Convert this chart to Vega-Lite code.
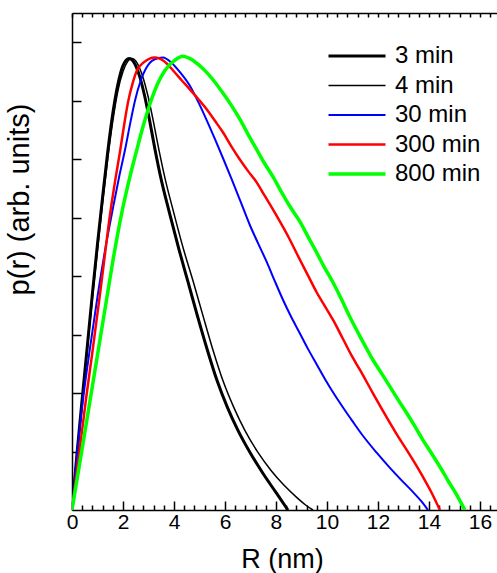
{
  "$schema": "https://vega.github.io/schema/vega-lite/v6.json",
  "width": 425,
  "height": 497,
  "autosize": {"type": "none"},
  "padding": {"left": 72, "top": 13, "right": 0, "bottom": 63},
  "config": {
    "view": {"stroke": null},
    "font": "Liberation Sans",
    "axis": {"grid": false, "domainColor": "black", "domainWidth": 1.5, "tickColor": "black", "tickWidth": 1.5, "labelColor": "black", "titleColor": "black", "titleFontWeight": "normal", "labelFont": "Liberation Sans", "titleFont": "Liberation Sans"}
  },
  "data": {"values": [
    {"series": "3 min", "R": 0, "p": 0}, {"series": "3 min", "R": 0.2, "p": 0.98}, {"series": "3 min", "R": 0.4, "p": 1.9}, {"series": "3 min", "R": 0.6, "p": 2.8}, {"series": "3 min", "R": 0.8, "p": 3.7}, {"series": "3 min", "R": 1.0, "p": 4.55}, {"series": "3 min", "R": 1.2, "p": 5.35}, {"series": "3 min", "R": 1.4, "p": 6.12}, {"series": "3 min", "R": 1.6, "p": 6.78}, {"series": "3 min", "R": 1.8, "p": 7.28}, {"series": "3 min", "R": 2.0, "p": 7.6}, {"series": "3 min", "R": 2.24, "p": 7.72}, {"series": "3 min", "R": 2.45, "p": 7.64}, {"series": "3 min", "R": 2.65, "p": 7.42}, {"series": "3 min", "R": 2.85, "p": 7.08}, {"series": "3 min", "R": 3.05, "p": 6.65}, {"series": "3 min", "R": 3.25, "p": 6.18}, {"series": "3 min", "R": 3.5, "p": 5.65}, {"series": "3 min", "R": 3.8, "p": 5.12}, {"series": "3 min", "R": 4.2, "p": 4.45}, {"series": "3 min", "R": 4.55, "p": 3.9}, {"series": "3 min", "R": 4.9, "p": 3.35}, {"series": "3 min", "R": 5.3, "p": 2.75}, {"series": "3 min", "R": 5.7, "p": 2.2}, {"series": "3 min", "R": 6.1, "p": 1.75}, {"series": "3 min", "R": 6.5, "p": 1.37}, {"series": "3 min", "R": 7.0, "p": 0.97}, {"series": "3 min", "R": 7.5, "p": 0.62}, {"series": "3 min", "R": 8.0, "p": 0.3}, {"series": "3 min", "R": 8.47, "p": 0},
    {"series": "4 min", "R": 0, "p": 0}, {"series": "4 min", "R": 0.2, "p": 0.93}, {"series": "4 min", "R": 0.4, "p": 1.85}, {"series": "4 min", "R": 0.6, "p": 2.75}, {"series": "4 min", "R": 0.8, "p": 3.62}, {"series": "4 min", "R": 1.0, "p": 4.45}, {"series": "4 min", "R": 1.2, "p": 5.25}, {"series": "4 min", "R": 1.4, "p": 6.0}, {"series": "4 min", "R": 1.6, "p": 6.65}, {"series": "4 min", "R": 1.8, "p": 7.17}, {"series": "4 min", "R": 2.0, "p": 7.5}, {"series": "4 min", "R": 2.35, "p": 7.72}, {"series": "4 min", "R": 2.56, "p": 7.64}, {"series": "4 min", "R": 2.77, "p": 7.42}, {"series": "4 min", "R": 2.98, "p": 7.08}, {"series": "4 min", "R": 3.19, "p": 6.65}, {"series": "4 min", "R": 3.4, "p": 6.18}, {"series": "4 min", "R": 3.66, "p": 5.65}, {"series": "4 min", "R": 3.97, "p": 5.12}, {"series": "4 min", "R": 4.38, "p": 4.45}, {"series": "4 min", "R": 4.76, "p": 3.9}, {"series": "4 min", "R": 5.12, "p": 3.35}, {"series": "4 min", "R": 5.52, "p": 2.75}, {"series": "4 min", "R": 5.93, "p": 2.2}, {"series": "4 min", "R": 6.35, "p": 1.75}, {"series": "4 min", "R": 6.77, "p": 1.37}, {"series": "4 min", "R": 7.3, "p": 0.98}, {"series": "4 min", "R": 7.8, "p": 0.68}, {"series": "4 min", "R": 8.3, "p": 0.43}, {"series": "4 min", "R": 8.8, "p": 0.22}, {"series": "4 min", "R": 9.15, "p": 0.09}, {"series": "4 min", "R": 9.45, "p": 0},
    {"series": "30 min", "R": 0, "p": 0}, {"series": "30 min", "R": 0.2, "p": 0.95}, {"series": "30 min", "R": 0.45, "p": 1.95}, {"series": "30 min", "R": 0.7, "p": 2.75}, {"series": "30 min", "R": 1.0, "p": 3.65}, {"series": "30 min", "R": 1.3, "p": 4.45}, {"series": "30 min", "R": 1.6, "p": 5.15}, {"series": "30 min", "R": 1.85, "p": 5.7}, {"series": "30 min", "R": 2.08, "p": 6.16}, {"series": "30 min", "R": 2.3, "p": 6.65}, {"series": "30 min", "R": 2.47, "p": 7.0}, {"series": "30 min", "R": 2.7, "p": 7.35}, {"series": "30 min", "R": 2.9, "p": 7.55}, {"series": "30 min", "R": 3.2, "p": 7.7}, {"series": "30 min", "R": 3.57, "p": 7.74}, {"series": "30 min", "R": 3.9, "p": 7.65}, {"series": "30 min", "R": 4.25, "p": 7.48}, {"series": "30 min", "R": 4.63, "p": 7.25}, {"series": "30 min", "R": 4.95, "p": 6.98}, {"series": "30 min", "R": 5.29, "p": 6.66}, {"series": "30 min", "R": 5.6, "p": 6.35}, {"series": "30 min", "R": 5.92, "p": 6.02}, {"series": "30 min", "R": 6.25, "p": 5.67}, {"series": "30 min", "R": 6.59, "p": 5.3}, {"series": "30 min", "R": 6.98, "p": 4.87}, {"series": "30 min", "R": 7.3, "p": 4.56}, {"series": "30 min", "R": 7.65, "p": 4.23}, {"series": "30 min", "R": 7.95, "p": 3.92}, {"series": "30 min", "R": 8.27, "p": 3.6}, {"series": "30 min", "R": 8.6, "p": 3.3}, {"series": "30 min", "R": 8.94, "p": 3.02}, {"series": "30 min", "R": 9.25, "p": 2.76}, {"series": "30 min", "R": 9.6, "p": 2.49}, {"series": "30 min", "R": 9.95, "p": 2.22}, {"series": "30 min", "R": 10.3, "p": 1.97}, {"series": "30 min", "R": 10.65, "p": 1.74}, {"series": "30 min", "R": 11.0, "p": 1.52}, {"series": "30 min", "R": 11.41, "p": 1.27}, {"series": "30 min", "R": 11.95, "p": 0.98}, {"series": "30 min", "R": 12.47, "p": 0.72}, {"series": "30 min", "R": 12.9, "p": 0.52}, {"series": "30 min", "R": 13.37, "p": 0.31}, {"series": "30 min", "R": 13.7, "p": 0.15}, {"series": "30 min", "R": 13.96, "p": 0},
    {"series": "300 min", "R": 0, "p": 0}, {"series": "300 min", "R": 0.29, "p": 1.0}, {"series": "300 min", "R": 0.55, "p": 1.9}, {"series": "300 min", "R": 0.8, "p": 2.7}, {"series": "300 min", "R": 1.1, "p": 3.7}, {"series": "300 min", "R": 1.3, "p": 4.4}, {"series": "300 min", "R": 1.49, "p": 5.05}, {"series": "300 min", "R": 1.7, "p": 5.65}, {"series": "300 min", "R": 1.88, "p": 6.12}, {"series": "300 min", "R": 2.05, "p": 6.6}, {"series": "300 min", "R": 2.2, "p": 6.98}, {"series": "300 min", "R": 2.38, "p": 7.3}, {"series": "300 min", "R": 2.55, "p": 7.52}, {"series": "300 min", "R": 2.8, "p": 7.65}, {"series": "300 min", "R": 3.25, "p": 7.74}, {"series": "300 min", "R": 3.6, "p": 7.68}, {"series": "300 min", "R": 4.0, "p": 7.5}, {"series": "300 min", "R": 4.3, "p": 7.35}, {"series": "300 min", "R": 4.63, "p": 7.19}, {"series": "300 min", "R": 4.95, "p": 7.03}, {"series": "300 min", "R": 5.29, "p": 6.85}, {"series": "300 min", "R": 5.6, "p": 6.66}, {"series": "300 min", "R": 5.92, "p": 6.46}, {"series": "300 min", "R": 6.25, "p": 6.22}, {"series": "300 min", "R": 6.59, "p": 5.99}, {"series": "300 min", "R": 6.9, "p": 5.8}, {"series": "300 min", "R": 7.25, "p": 5.6}, {"series": "300 min", "R": 7.55, "p": 5.38}, {"series": "300 min", "R": 7.84, "p": 5.17}, {"series": "300 min", "R": 8.04, "p": 5.02}, {"series": "300 min", "R": 8.5, "p": 4.66}, {"series": "300 min", "R": 8.94, "p": 4.28}, {"series": "300 min", "R": 9.27, "p": 4.0}, {"series": "300 min", "R": 9.6, "p": 3.72}, {"series": "300 min", "R": 9.9, "p": 3.5}, {"series": "300 min", "R": 10.24, "p": 3.25}, {"series": "300 min", "R": 10.6, "p": 2.95}, {"series": "300 min", "R": 10.98, "p": 2.63}, {"series": "300 min", "R": 11.29, "p": 2.4}, {"series": "300 min", "R": 11.8, "p": 2.0}, {"series": "300 min", "R": 12.15, "p": 1.73}, {"series": "300 min", "R": 12.47, "p": 1.49}, {"series": "300 min", "R": 12.8, "p": 1.25}, {"series": "300 min", "R": 13.14, "p": 1.02}, {"series": "300 min", "R": 13.45, "p": 0.8}, {"series": "300 min", "R": 13.76, "p": 0.57}, {"series": "300 min", "R": 14.1, "p": 0.3}, {"series": "300 min", "R": 14.43, "p": 0},
    {"series": "800 min", "R": 0, "p": 0}, {"series": "800 min", "R": 0.39, "p": 1.03}, {"series": "800 min", "R": 0.7, "p": 1.85}, {"series": "800 min", "R": 0.98, "p": 2.6}, {"series": "800 min", "R": 1.3, "p": 3.45}, {"series": "800 min", "R": 1.6, "p": 4.25}, {"series": "800 min", "R": 1.96, "p": 5.1}, {"series": "800 min", "R": 2.25, "p": 5.66}, {"series": "800 min", "R": 2.53, "p": 6.14}, {"series": "800 min", "R": 2.8, "p": 6.58}, {"series": "800 min", "R": 3.1, "p": 7.0}, {"series": "800 min", "R": 3.35, "p": 7.28}, {"series": "800 min", "R": 3.65, "p": 7.52}, {"series": "800 min", "R": 4.0, "p": 7.68}, {"series": "800 min", "R": 4.35, "p": 7.76}, {"series": "800 min", "R": 4.63, "p": 7.72}, {"series": "800 min", "R": 4.95, "p": 7.62}, {"series": "800 min", "R": 5.29, "p": 7.48}, {"series": "800 min", "R": 5.6, "p": 7.32}, {"series": "800 min", "R": 5.92, "p": 7.13}, {"series": "800 min", "R": 6.25, "p": 6.92}, {"series": "800 min", "R": 6.59, "p": 6.68}, {"series": "800 min", "R": 6.9, "p": 6.43}, {"series": "800 min", "R": 7.25, "p": 6.16}, {"series": "800 min", "R": 7.55, "p": 5.93}, {"series": "800 min", "R": 7.88, "p": 5.7}, {"series": "800 min", "R": 8.2, "p": 5.45}, {"series": "800 min", "R": 8.55, "p": 5.19}, {"series": "800 min", "R": 8.94, "p": 4.93}, {"series": "800 min", "R": 9.25, "p": 4.68}, {"series": "800 min", "R": 9.6, "p": 4.4}, {"series": "800 min", "R": 9.9, "p": 4.15}, {"series": "800 min", "R": 10.24, "p": 3.89}, {"series": "800 min", "R": 10.55, "p": 3.62}, {"series": "800 min", "R": 10.9, "p": 3.3}, {"series": "800 min", "R": 11.37, "p": 2.91}, {"series": "800 min", "R": 11.8, "p": 2.57}, {"series": "800 min", "R": 12.15, "p": 2.33}, {"series": "800 min", "R": 12.47, "p": 2.11}, {"series": "800 min", "R": 12.8, "p": 1.88}, {"series": "800 min", "R": 13.14, "p": 1.65}, {"series": "800 min", "R": 13.45, "p": 1.43}, {"series": "800 min", "R": 13.76, "p": 1.2}, {"series": "800 min", "R": 14.1, "p": 0.97}, {"series": "800 min", "R": 14.43, "p": 0.74}, {"series": "800 min", "R": 14.75, "p": 0.5}, {"series": "800 min", "R": 15.1, "p": 0.25}, {"series": "800 min", "R": 15.41, "p": 0}
  ]},
  "encoding": {
    "y": {
      "field": "p", "type": "quantitative",
      "scale": {"domain": [0, 8.5], "nice": false, "zero": false},
      "axis": {
        "title": "p(r) (arb. units)", "values": [1, 2, 3, 4, 5, 6, 7, 8], "tickSize": -9, "labels": false,
        "titleFontSize": 29, "titleAngle": -90, "titleX": -44, "titleY": 186, "titleAlign": "center", "titleBaseline": "alphabetic"
      }
    }
  },
  "layer": [
    {
      "mark": {"type": "line", "clip": true, "interpolate": "monotone"},
      "encoding": {
        "x": {
          "field": "R", "type": "quantitative",
          "scale": {"domain": [0, 16.67], "nice": false, "zero": false},
          "axis": {
            "orient": "bottom", "title": "R (nm)", "titleFontSize": 27, "titleY": 57, "titleX": 210, "titleBaseline": "alphabetic",
            "values": [0, 2, 4, 6, 8, 10, 12, 14, 16], "format": "d", "tickSize": -9,
            "labelFontSize": 21, "labelPadding": 10, "labelOverlap": false, "labelFlush": false
          }
        },
        "color": {
          "field": "series", "type": "nominal",
          "scale": {"domain": ["3 min", "4 min", "30 min", "300 min", "800 min"], "range": ["#000000", "#000000", "#0000ff", "#ff0000", "#00ff00"]},
          "legend": {"orient": "none", "legendX": 254, "legendY": 31, "title": null, "labelFontSize": 24, "labelFont": "Liberation Sans", "labelColor": "black", "symbolType": "M-3,0H3", "symbolSize": 361, "symbolOffset": 19, "labelOffset": 26, "rowPadding": 5.5, "padding": 0}
        },
        "strokeWidth": {
          "field": "series", "type": "nominal",
          "scale": {"type": "ordinal", "domain": ["3 min", "4 min", "30 min", "300 min", "800 min"], "range": [3, 1.5, 2, 2.5, 3.5]},
          "legend": {"orient": "none", "legendX": 254, "legendY": 31, "title": null, "labelFontSize": 24, "labelFont": "Liberation Sans", "labelColor": "black", "symbolType": "M-3,0H3", "symbolSize": 361, "symbolOffset": 19, "labelOffset": 26, "rowPadding": 5.5, "padding": 0}
        }
      }
    },
    {
      "mark": {"type": "line", "opacity": 0},
      "encoding": {
        "x": {
          "field": "R", "type": "quantitative",
          "scale": {"domain": [0, 16.67], "nice": false, "zero": false},
          "axis": {
            "orient": "bottom", "title": null, "labels": false, "domain": false, "tickSize": -5,
            "values": [0.4, 0.8, 1.2, 1.6, 2.4, 2.8, 3.2, 3.6, 4.4, 4.8, 5.2, 5.6, 6.4, 6.8, 7.2, 7.6, 8.4, 8.8, 9.2, 9.6, 10.4, 10.8, 11.2, 11.6, 12.4, 12.8, 13.2, 13.6, 14.4, 14.8, 15.2, 15.6, 16.4]
          }
        },
        "detail": {"field": "series", "type": "nominal"}
      }
    },
    {
      "mark": {"type": "line", "opacity": 0},
      "encoding": {
        "x": {
          "field": "R", "type": "quantitative",
          "scale": {"domain": [0, 16.67], "nice": false, "zero": false},
          "axis": {
            "orient": "top", "title": null, "labels": false, "tickSize": -4,
            "values": [0, 0.4, 0.8, 1.2, 1.6, 2, 2.4, 2.8, 3.2, 3.6, 4, 4.4, 4.8, 5.2, 5.6, 6, 6.4, 6.8, 7.2, 7.6, 8, 8.4, 8.8, 9.2, 9.6, 10, 10.4, 10.8, 11.2, 11.6, 12, 12.4, 12.8, 13.2, 13.6, 14, 14.4, 14.8, 15.2, 15.6, 16, 16.4]
          }
        },
        "detail": {"field": "series", "type": "nominal"}
      }
    }
  ],
  "resolve": {"axis": {"x": "independent"}}
}
